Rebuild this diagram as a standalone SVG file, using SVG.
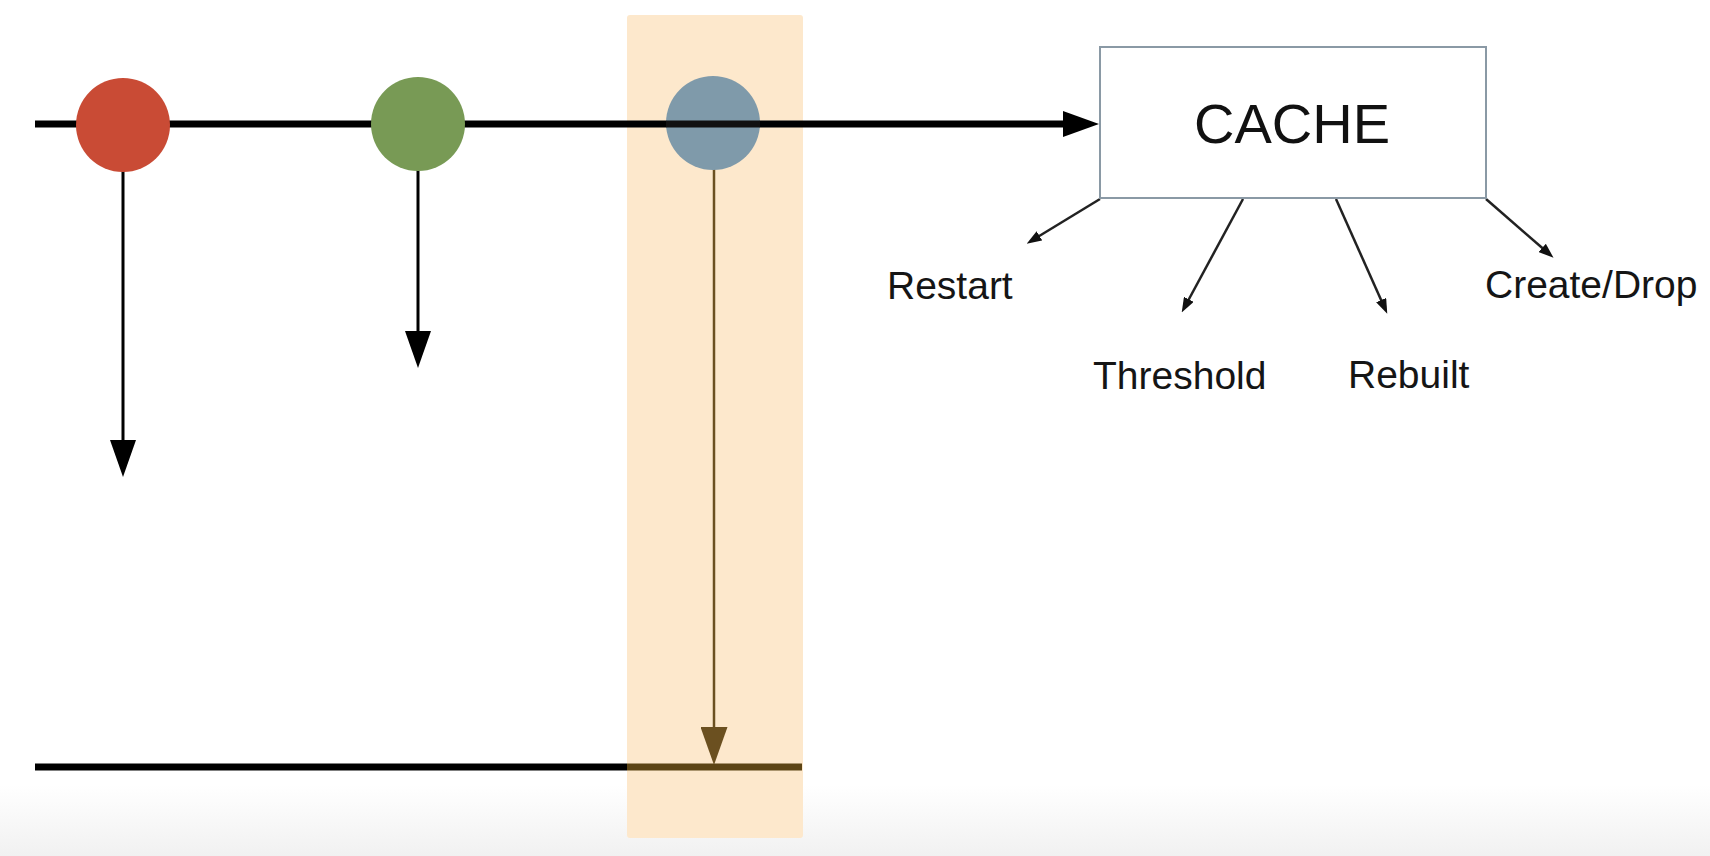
<svg xmlns="http://www.w3.org/2000/svg" width="1710" height="856" viewBox="0 0 1710 856">
<style>
.lbl{font-family:"Liberation Sans",Arial,sans-serif;font-size:39px;fill:#151515}
.big{font-family:"Liberation Sans",Arial,sans-serif;font-size:56px;fill:#111}
.thick{stroke:#000;stroke-width:7;fill:none}
.thin{stroke:#000;stroke-width:3;fill:none}
.sm{stroke:#222;stroke-width:2.5;fill:none}
</style>
<defs>
<linearGradient id="bg" x1="0" y1="0" x2="0" y2="1">
<stop offset="0" stop-color="#ffffff"/>
<stop offset="1" stop-color="#f1f1f1"/>
</linearGradient>
<marker id="ahBig" markerUnits="userSpaceOnUse" markerWidth="36" markerHeight="26" refX="16" refY="13" orient="auto">
<path d="M0,0 L36,13 L0,26 z" fill="#000"/>
</marker>
<marker id="ahDown" markerUnits="userSpaceOnUse" markerWidth="37" markerHeight="26" refX="17" refY="13" orient="auto">
<path d="M0,0 L37,13 L0,26 z" fill="#000"/>
</marker>
<marker id="ahBrown" markerUnits="userSpaceOnUse" markerWidth="38" markerHeight="27" refX="18" refY="13.5" orient="auto">
<path d="M0,0 L38,13.5 L0,27 z" fill="#6b5020"/>
</marker>
<marker id="ahSm" markerUnits="userSpaceOnUse" markerWidth="15" markerHeight="11" refX="7" refY="5.5" orient="auto">
<path d="M0,0 L15,5.5 L0,11 z" fill="#111"/>
</marker>
</defs>
<rect x="0" y="0" width="1710" height="856" fill="#fff"/>
<rect x="0" y="785" width="1710" height="71" fill="url(#bg)"/>
<g id="highlight">
<rect x="627" y="15" width="176" height="823" rx="3" fill="#fde8cc"/>
</g>
<g id="connectors">
<line class="thick" x1="35" y1="124" x2="1079" y2="124" marker-end="url(#ahBig)"/>
<line class="thin" x1="123" y1="165" x2="123" y2="457" marker-end="url(#ahDown)"/>
<line class="thin" x1="418" y1="165" x2="418" y2="348" marker-end="url(#ahDown)"/>
<line x1="714" y1="165" x2="714" y2="745" stroke="#6b5020" stroke-width="2.5" marker-end="url(#ahBrown)"/>
<line class="thick" x1="35" y1="767" x2="627" y2="767"/>
<line x1="627" y1="767" x2="802" y2="767" stroke="#5c4414" stroke-width="7"/>
<line class="sm" x1="1100" y1="199" x2="1033.5" y2="239.5" marker-end="url(#ahSm)"/>
<line class="sm" x1="1243" y1="199" x2="1185.5" y2="305.5" marker-end="url(#ahSm)"/>
<line class="sm" x1="1336" y1="199" x2="1384" y2="306.5" marker-end="url(#ahSm)"/>
<line class="sm" x1="1486" y1="199" x2="1547.5" y2="252.5" marker-end="url(#ahSm)"/>
</g>
<g id="node-red"><circle cx="123" cy="125" r="47" fill="#c94b35"/></g>
<g id="node-green"><circle cx="418" cy="124" r="47" fill="#789a55"/></g>
<g id="node-blue"><circle cx="713" cy="123" r="47" fill="#7f9aaa"/><line x1="666" y1="124" x2="760" y2="124" stroke="#111" stroke-width="7"/></g>
<g id="cache">
<rect x="1100" y="47" width="386" height="151" fill="#fff" stroke="#8a99a5" stroke-width="2"/>
<text class="big" x="1292" y="143" text-anchor="middle">CACHE</text>
</g>
<g id="label-restart"><text class="lbl" x="887" y="299">Restart</text></g>
<g id="label-threshold"><text class="lbl" x="1093" y="389">Threshold</text></g>
<g id="label-rebuilt"><text class="lbl" x="1348" y="388">Rebuilt</text></g>
<g id="label-createdrop"><text class="lbl" x="1485" y="298">Create/Drop</text></g>
</svg>
